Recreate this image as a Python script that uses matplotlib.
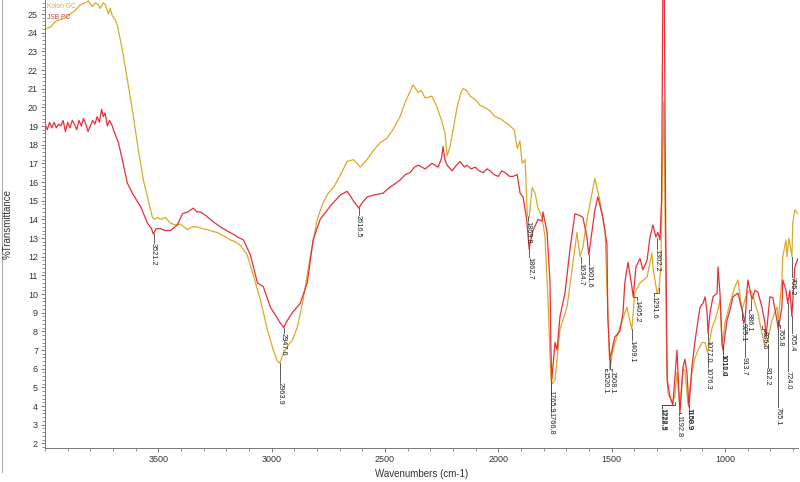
import matplotlib
matplotlib.use("Agg")
import matplotlib.pyplot as plt
from matplotlib.ticker import MultipleLocator
from matplotlib.lines import Line2D

plt.rcParams['font.family'] = ['Liberation Sans', 'DejaVu Sans']

# Kolon GC (gold trace): wavenumber, %T
gold_wn = [4000, 3976, 3954, 3932, 3910, 3888, 3866, 3844, 3822, 3809, 3791, 3778, 3765, 3756,
           3743, 3734, 3720, 3712, 3703, 3690, 3681, 3659, 3637, 3615, 3588, 3566, 3544, 3526,
           3515, 3504, 3490, 3469, 3447, 3425, 3403, 3372, 3350, 3328, 3305, 3284, 3260, 3240,
           3210, 3183, 3160, 3138, 3108, 3081, 3050, 3019, 2993, 2975, 2964, 2955, 2945, 2931,
           2910, 2887, 2861, 2830, 2799, 2773, 2750, 2728, 2700, 2667, 2640, 2623, 2610, 2579,
           2550, 2522, 2491, 2460, 2434, 2410, 2376, 2354, 2340, 2323, 2293, 2270, 2248, 2235,
           2226, 2215, 2204, 2182, 2165, 2155, 2140, 2124, 2100, 2080, 2060, 2036, 2015, 1992,
           1970, 1948, 1930, 1917, 1905, 1895, 1882, 1872, 1864, 1851, 1838, 1825, 1807, 1794,
           1781, 1768, 1762, 1750, 1741, 1728, 1697, 1675, 1653, 1640, 1627, 1609, 1574, 1552,
           1529, 1517, 1508, 1495, 1464, 1433, 1411, 1398, 1375, 1344, 1322, 1318, 1300, 1291,
           1283, 1276, 1270, 1264, 1257, 1252, 1234, 1221, 1212, 1199, 1185, 1177, 1163, 1146,
           1132, 1119, 1101, 1088, 1077, 1057, 1044, 1031, 1022, 1013, 1000, 978, 956, 943,
           925, 903, 890, 877, 868, 855, 837, 824, 811, 793, 771, 765, 749, 745, 731, 727,
           718, 705, 701, 692, 678]
gold_t = [24.2, 24.3, 24.6, 24.7, 24.8, 25.0, 25.2, 25.5, 25.6, 25.7, 25.4, 25.6, 25.5, 25.3,
          25.6, 25.5, 25.0, 25.3, 24.9, 24.7, 24.4, 23.1, 21.5, 19.9, 17.7, 16.1, 15.0, 14.1,
          14.0, 14.1, 14.0, 14.1, 13.8, 13.7, 13.75, 13.45, 13.6, 13.6, 13.5, 13.45, 13.35, 13.3,
          13.1, 12.9, 12.8, 12.6, 12.1, 11.0, 9.7, 8.1, 7.0, 6.4, 6.3, 6.6, 6.9, 7.2,
          7.5, 8.2, 9.7, 12.0, 14.0, 14.9, 15.4, 15.7, 16.3, 17.1, 17.2, 17.0, 16.8, 17.2,
          17.7, 18.1, 18.35, 18.9, 19.5, 20.3, 21.2, 20.8, 20.9, 20.5, 20.6, 20.0, 19.2, 18.6,
          17.4, 17.8, 18.5, 20.0, 20.8, 21.0, 20.9, 20.6, 20.4, 20.1, 20.0, 19.8, 19.5, 19.4,
          19.2, 19.0, 18.8, 17.8, 18.2, 17.0, 17.2, 14.2, 14.1, 15.7, 15.4, 14.6, 14.1, 13.05,
          9.7, 5.4, 5.2, 5.4, 6.5, 8.1, 9.3, 11.3, 13.3, 12.0, 12.5, 14.0, 16.2, 15.0,
          13.3, 9.1, 5.9, 7.0, 8.2, 9.3, 8.1, 10.05, 10.6, 10.9, 12.2, 11.45, 10.05, 10.3,
          11.5, 17.0, 20.3, 14.0, 6.0, 4.7, 4.2, 4.5, 5.8, 3.95, 6.0, 5.9, 4.05, 5.8,
          6.6, 7.0, 7.4, 7.4, 6.85, 8.2, 8.6, 9.15, 9.7, 7.2, 8.45, 9.5, 10.4, 10.75,
          9.15, 10.05, 10.2, 10.0, 9.5, 9.0, 7.9, 7.2, 7.55, 8.6, 9.3, 8.6, 10.75, 12.0, 12.9, 12.0,
          13.0, 12.0, 13.8, 14.5, 14.3]

# JSB PC (red trace)
red_wn = [4000, 3990, 3980, 3970, 3960, 3950, 3940, 3930, 3920, 3910, 3900, 3890, 3880, 3870,
          3860, 3850, 3840, 3830, 3820, 3810, 3800, 3790, 3780, 3770, 3760, 3750, 3743, 3735,
          3725, 3715, 3703, 3698, 3676, 3659, 3637, 3610, 3579, 3548, 3530, 3522, 3510, 3491,
          3470, 3447, 3416, 3394, 3370, 3346, 3330, 3315, 3290, 3271, 3250, 3227, 3200, 3169,
          3150, 3125, 3094, 3063, 3037, 3006, 2962, 2947, 2935, 2909, 2874, 2843, 2817, 2786,
          2742, 2698, 2667, 2640, 2616, 2600, 2579, 2550, 2509, 2480, 2434, 2410, 2390, 2370,
          2353, 2323, 2293, 2266, 2250, 2244, 2236, 2226, 2204, 2185, 2169, 2150, 2138, 2120,
          2102, 2085, 2067, 2050, 2036, 2020, 2000, 1985, 1970, 1950, 1935, 1917, 1904, 1891,
          1875, 1864, 1860, 1847, 1825, 1807, 1803, 1785, 1772, 1768, 1764, 1759, 1750, 1741,
          1728, 1706, 1684, 1662, 1640, 1627, 1609, 1601, 1574, 1561, 1539, 1521, 1517, 1508,
          1499, 1486, 1464, 1450, 1442, 1428, 1411, 1405, 1393, 1375, 1362, 1344, 1331, 1318,
          1305, 1296, 1287, 1280, 1274, 1268, 1262, 1255, 1243, 1230, 1212, 1199, 1185, 1177,
          1168, 1159, 1146, 1132, 1119, 1110, 1097, 1088, 1079, 1075, 1066, 1053, 1035, 1031,
          1022, 1013, 1009, 991, 978, 965, 943, 925, 912, 903, 899, 881, 868, 855,
          837, 824, 819, 802, 789, 771, 765, 749, 745, 731, 723, 714, 705, 692, 678]
red_t = [19.1, 18.8, 19.2, 18.9, 19.2, 18.9, 19.1, 19.0, 19.3, 18.7, 19.2, 18.9, 19.3, 19.1,
         18.8, 19.3, 19.0, 19.4, 19.1, 18.7, 19.0, 19.3, 19.1, 19.5, 19.2, 19.9, 19.5, 19.7,
         19.0, 19.3, 19.0, 18.8, 18.1, 17.2, 15.95, 15.3, 14.7, 13.8, 13.5, 13.2, 13.5, 13.5,
         13.4, 13.4, 13.7, 14.3, 14.4, 14.6, 14.4, 14.4, 14.2, 14.0, 13.8, 13.6, 13.4, 13.2,
         13.05, 12.9, 12.1, 10.6, 10.4, 9.3, 8.45, 8.2, 8.5, 9.0, 9.5, 10.6, 12.9, 14.0,
         14.7, 15.3, 15.5, 15.0, 14.6, 14.9, 15.2, 15.3, 15.4, 15.7, 16.1, 16.4, 16.5, 16.8,
         16.9, 16.7, 17.0, 16.8, 17.3, 17.9, 17.2, 16.9, 16.6, 16.9, 17.1, 16.8, 16.9, 16.7,
         16.8, 16.6, 16.5, 16.7, 16.6, 16.4, 16.3, 16.6, 16.5, 16.3, 16.3, 16.4, 15.4, 15.2,
         14.0, 12.4, 12.7, 13.4, 14.0, 13.9, 14.4, 13.3, 10.6, 7.0, 5.4, 6.1, 7.4, 7.0,
         8.8, 10.05, 12.4, 14.3, 14.2, 14.1, 13.05, 12.1, 14.5, 15.2, 14.1, 12.7, 8.8, 6.5,
         7.0, 7.7, 8.0, 9.0, 10.6, 11.7, 10.4, 9.85, 11.45, 11.9, 11.3, 11.8, 13.05, 13.7,
         13.05, 13.3, 12.9, 15.0, 26.5, 26.5, 14.0, 5.4, 4.5, 4.05, 7.0, 3.6, 6.1, 6.5,
         5.8, 3.95, 6.1, 7.5, 8.6, 9.3, 9.5, 9.85, 9.0, 7.9, 9.0, 9.85, 10.05, 11.45,
         10.0, 7.4, 7.0, 8.6, 9.15, 9.85, 10.05, 9.15, 8.45, 10.2, 10.75, 9.7, 10.2, 10.1,
         9.3, 8.45, 7.7, 9.85, 9.8, 8.6, 8.1, 9.3, 10.75, 10.2, 9.5, 10.2, 8.8, 11.45, 11.9]

# peak labels: text, wavenumber, %T at the peak
peak_text = ['3521.2', '2963.9', '2947.6', '2616.5', '1862.7', '1869.8', '1765.9', '1766.8',
             '1634.7', '1601.6', '1520.1', '1508.1', '1409.1', '1405.2', '1302.2', '1291.6',
             '1228.5', '1222.3', '1192.8', '1160.9', '1158.9', '1077.0', '1076.3', '1011.0',
             '1010.4', '925.1', '913.7', '886.1', '836.6', '812.2', '765.8', '765.1', '724.0',
             '705.4', '705.2']
peak_wn = [float(s) for s in peak_text]
peak_t = [13.2, 6.3, 8.2, 14.6, 12.4, 14.1, 5.4, 5.2, 12.0, 12.1, 5.9, 6.5, 8.1, 9.85,
          13.0, 10.3, 4.05, 4.2, 3.6, 4.05, 3.95, 7.9, 6.85, 7.0, 7.2, 9.15, 8.45, 9.7,
          8.3, 7.3, 8.6, 8.1, 9.5, 8.8, 12.0]

# where each label sits (layout)
label_top = [12.75, 5.3, 7.9, 14.25, 12.0, 13.9, 4.85, 3.7, 11.65, 11.55, 5.85, 5.85, 7.55,
             9.7, 12.4, 9.9, 3.9, 3.9, 3.5, 3.9, 3.9, 7.55, 6.1, 6.8, 6.8, 8.45, 6.6, 9.0,
             8.0, 6.1, 8.2, 3.95, 5.9, 7.9, 10.9]
label_shift = {'1228.5': 1280, '1222.3': 1276, '1192.8': 1205, '1405.2': 1389,
               '1291.6': 1315, '836.6': 827, '925.1': 921, '886.1': 895, '765.8': 758,
               '1520.1': 1530, '1508.1': 1500}

gold = '#d9aa2c'
red = '#e4313b'

fig = plt.figure(figsize=(8, 4.82), dpi=100)
ax = fig.add_axes([45 / 800, 34 / 482, 753 / 800, 448 / 482])

ax.plot(gold_wn, gold_t, color=gold, lw=0.9)
ax.plot(red_wn, red_t, color=red, lw=0.9)

for txt, w, v, top in zip(peak_text, peak_wn, peak_t, label_top):
    lw_ = label_shift.get(txt, w)
    if lw_ == w:
        ax.plot([w, w], [v, top], color='#444', lw=0.6)
    else:
        mid = top + 0.15
        ax.plot([w, w, lw_, lw_], [v, mid, mid, top], color='#444', lw=0.6)
    ax.text(lw_, top, txt, rotation=270, ha='center', va='top', fontsize=5.3, color='#222')

ax.set_xlim(4000, 678)
ax.set_ylim(1.75, 25.75)
ax.xaxis.set_major_locator(MultipleLocator(500))
ax.xaxis.set_minor_locator(MultipleLocator(100))
ax.yaxis.set_major_locator(MultipleLocator(1))
ax.yaxis.set_minor_locator(MultipleLocator(0.2))
ax.set_xticks([3500, 3000, 2500, 2000, 1500, 1000])
ax.tick_params(which='major', length=3, width=0.6, color='#666', labelsize=6.5,
               labelcolor='#333', pad=2)
ax.tick_params(which='minor', length=2, width=0.5, color='#666')
for s in ['top', 'right']:
    ax.spines[s].set_visible(False)
for s in ['left', 'bottom']:
    ax.spines[s].set_color('#777')
    ax.spines[s].set_linewidth(0.7)

ax.text(0.003, 0.985, 'Kolon GC', transform=ax.transAxes, fontsize=4.8, color=gold, va='center')
ax.text(0.003, 0.962, 'JSB PC', transform=ax.transAxes, fontsize=4.8, color=red, va='center')

fig.text(8 / 800, 1 - 224 / 482, '%Transmittance', rotation=90, ha='center', va='center',
         fontsize=7, color='#333')
fig.text(422 / 800, 1 - 474 / 482, 'Wavenumbers (cm-1)', ha='center', va='center',
         fontsize=7, color='#333')
fig.add_artist(Line2D([2 / 800, 2 / 800], [1 - 472 / 482, 1], color='#aaa', lw=0.8))

fig.savefig('out.png', dpi=100)
